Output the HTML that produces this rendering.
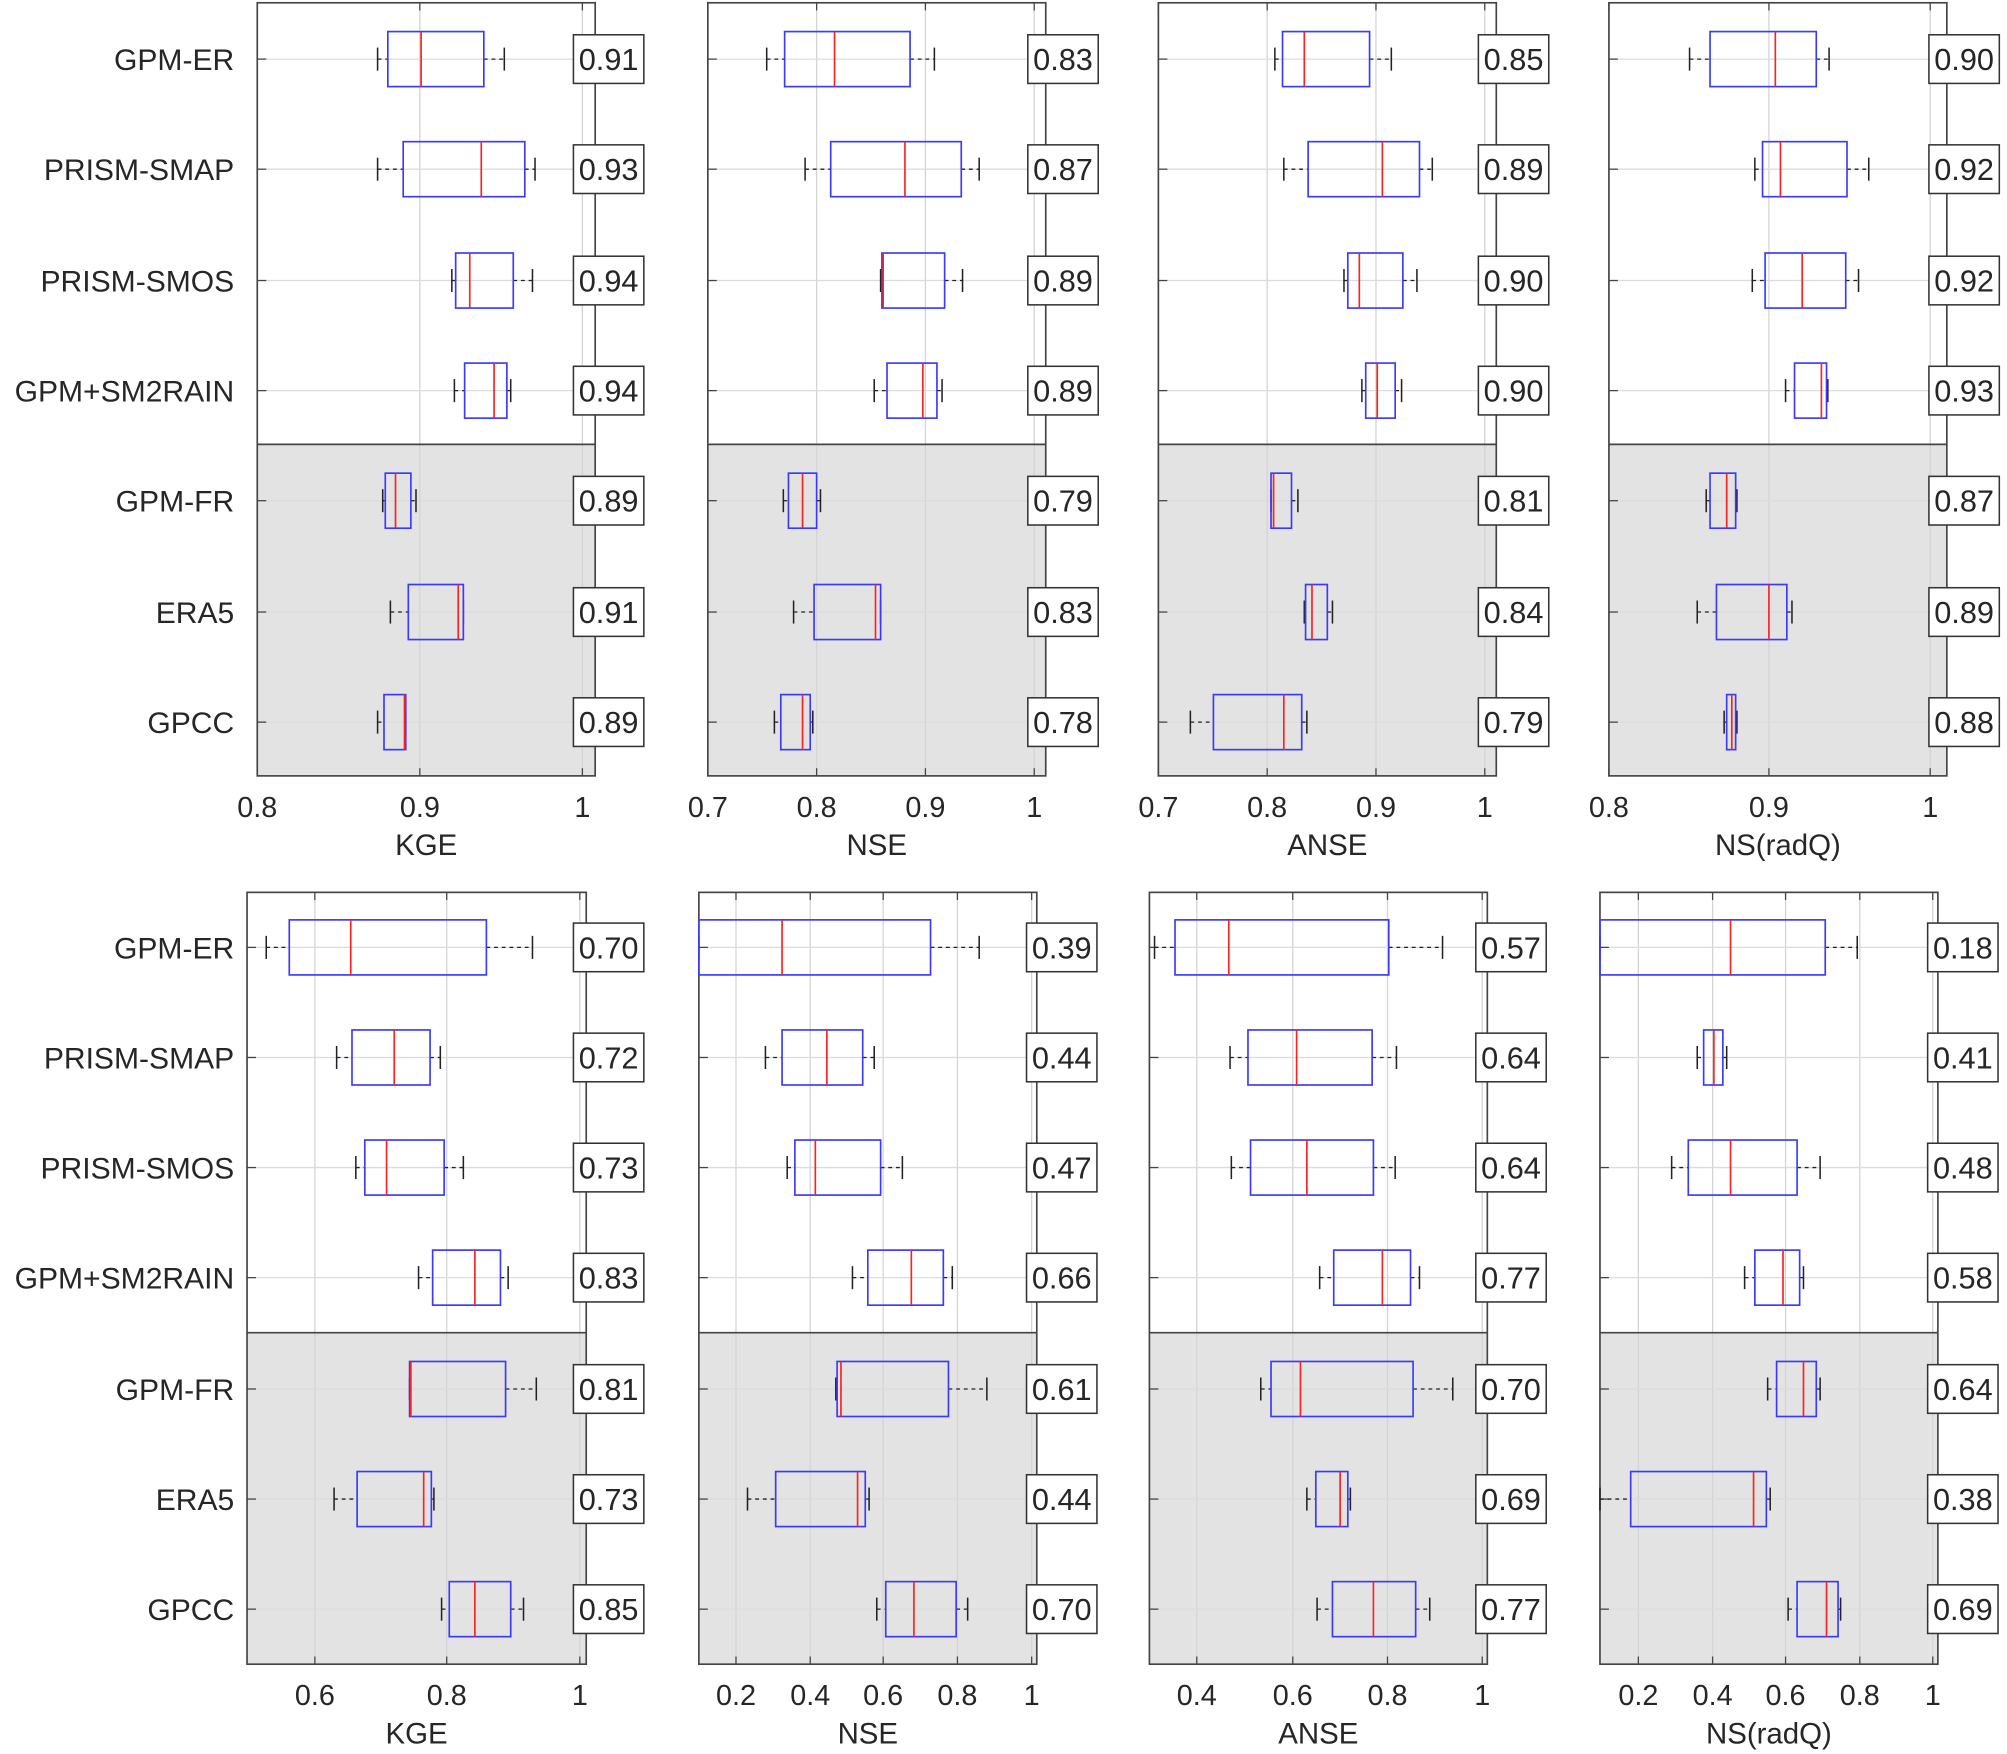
<!DOCTYPE html>
<html><head><meta charset="utf-8"><style>
html,body{margin:0;padding:0;background:#fff;}
svg{display:block;}
text{font-family:"Liberation Sans",Arial,sans-serif;fill:#262626;}
</style></head><body>
<svg id="s" width="2007" height="1754" viewBox="0 0 1568 1370" xmlns="http://www.w3.org/2000/svg"></svg>
<script>
var labels=["GPM-ER","PRISM-SMAP","PRISM-SMOS","GPM+SM2RAIN","GPM-FR","ERA5","GPCC"];
var P=[
{x0:201,x1:465,y0:2,y1:606,g:347,rows:[46,132,219,305,391,478,564],ticks:[[201,"0.8"],[328,"0.9"],[455,"1"]],lab:"KGE",bx:448,showY:true,
 vals:["0.91","0.93","0.94","0.94","0.89","0.91","0.89"],
 b:[[295,303,329,378,394],[295,315,376,410,418],[353,356,367,401,416],[355,363,386,396,399],[299,301,309,321,325],[305,319,358,362,362],[295,300,316,317,317]]},
{x0:553,x1:817,y0:2,y1:606,g:347,rows:[46,132,219,305,391,478,564],ticks:[[553,"0.7"],[638,"0.8"],[723,"0.9"],[808,"1"]],lab:"NSE",bx:803,
 vals:["0.83","0.87","0.89","0.89","0.79","0.83","0.78"],
 b:[[599,613,652,711,730],[629,649,707,751,765],[688,689,690,738,752],[683,693,721,732,736],[612,616,627,638,641],[620,636,684,688,688],[605,610,627,633,635]]},
{x0:905,x1:1169,y0:2,y1:606,g:347,rows:[46,132,219,305,391,478,564],ticks:[[905,"0.7"],[990,"0.8"],[1075,"0.9"],[1160,"1"]],lab:"ANSE",bx:1155,
 vals:["0.85","0.89","0.90","0.90","0.81","0.84","0.79"],
 b:[[996,1002,1019,1070,1087],[1003,1022,1080,1109,1119],[1050,1053,1062,1096,1107],[1064,1067,1076,1090,1095],[993,993,995,1009,1014],[1019,1020,1025,1037,1041],[930,948,1003,1017,1021]]},
{x0:1257,x1:1521,y0:2,y1:606,g:347,rows:[46,132,219,305,391,478,564],ticks:[[1257,"0.8"],[1382,"0.9"],[1508,"1"]],lab:"NS(radQ)",bx:1507,
 vals:["0.90","0.92","0.92","0.93","0.87","0.89","0.88"],
 b:[[1320,1336,1387,1419,1429],[1371,1377,1391,1443,1460],[1369,1379,1408,1442,1452],[1395,1402,1423,1427,1428],[1333,1336,1349,1356,1357],[1326,1341,1382,1396,1400],[1347,1349,1353,1356,1357]]},
{x0:193,x1:458,y0:697,y1:1300,g:1041,rows:[740,826,912,998,1085,1171,1257],ticks:[[246,"0.6"],[349,"0.8"],[453,"1"]],lab:"KGE",bx:448,showY:true,
 vals:["0.70","0.72","0.73","0.83","0.81","0.73","0.85"],
 b:[[208,226,274,380,416],[263,275,308,336,344],[278,285,302,347,362],[327,338,371,391,397],[320,320,321,395,419],[261,279,331,337,339],[345,351,371,399,409]]},
{x0:546,x1:810,y0:697,y1:1300,g:1041,rows:[740,826,912,998,1085,1171,1257],ticks:[[575,"0.2"],[633,"0.4"],[690,"0.6"],[748,"0.8"],[806,"1"]],lab:"NSE",bx:802,
 vals:["0.39","0.44","0.47","0.66","0.61","0.44","0.70"],
 b:[[546,546,611,727,765],[598,611,646,674,683],[615,621,637,688,705],[666,678,712,737,744],[653,654,657,741,771],[584,606,670,676,679],[685,692,714,747,756]]},
{x0:898,x1:1162,y0:697,y1:1300,g:1041,rows:[740,826,912,998,1085,1171,1257],ticks:[[935,"0.4"],[1010,"0.6"],[1084,"0.8"],[1158,"1"]],lab:"ANSE",bx:1153,
 vals:["0.57","0.64","0.64","0.77","0.70","0.69","0.77"],
 b:[[902,918,960,1085,1127],[961,975,1013,1072,1091],[962,977,1021,1073,1090],[1031,1042,1080,1102,1109],[985,993,1016,1104,1135],[1021,1028,1047,1053,1055],[1029,1041,1073,1106,1117]]},
{x0:1250,x1:1514,y0:697,y1:1300,g:1041,rows:[740,826,912,998,1085,1171,1257],ticks:[[1280,"0.2"],[1338,"0.4"],[1395,"0.6"],[1453,"0.8"],[1510,"1"]],lab:"NS(radQ)",bx:1506,
 vals:["0.18","0.41","0.48","0.58","0.64","0.38","0.69"],
 b:[[1250,1250,1352,1426,1451],[1326,1331,1339,1346,1349],[1306,1319,1352,1404,1422],[1363,1371,1393,1406,1409],[1381,1388,1409,1419,1422],[1250,1274,1370,1380,1383],[1397,1404,1427,1436,1438]]}
];
var h='';
P.forEach(function(p){
  var w=p.x1-p.x0;
  h+='<rect x="'+p.x0+'" y="'+p.g+'" width="'+w+'" height="'+(p.y1-p.g)+'" fill="#e3e3e3"/>';
  p.ticks.forEach(function(t){
    h+='<line x1="'+t[0]+'" y1="'+p.y0+'" x2="'+t[0]+'" y2="'+p.y1+'" stroke="#d4d4d4" stroke-width="1"/>';
    h+='<line x1="'+t[0]+'" y1="'+p.y0+'" x2="'+t[0]+'" y2="'+(p.y0+6)+'" stroke="#444" stroke-width="1"/>';
    h+='<line x1="'+t[0]+'" y1="'+p.y1+'" x2="'+t[0]+'" y2="'+(p.y1-6)+'" stroke="#444" stroke-width="1"/>';
    h+='<text x="'+t[0]+'" y="'+(p.y1+32)+'" font-size="22.5" text-anchor="middle">'+t[1]+'</text>';
  });
  p.rows.forEach(function(y,i){
    h+='<line x1="'+p.x0+'" y1="'+y+'" x2="'+p.x1+'" y2="'+y+'" stroke="#dcdcdc" stroke-width="1"/>';
    h+='<line x1="'+p.x0+'" y1="'+y+'" x2="'+(p.x0+7)+'" y2="'+y+'" stroke="#444" stroke-width="1"/>';
    if(p.showY) h+='<text x="183" y="'+(y+8.5)+'" font-size="23.5" text-anchor="end">'+labels[i]+'</text>';
  });
  h+='<line x1="'+p.x0+'" y1="'+p.g+'" x2="'+p.x1+'" y2="'+p.g+'" stroke="#444" stroke-width="1.3"/>';
  h+='<rect x="'+p.x0+'" y="'+p.y0+'" width="'+w+'" height="'+(p.y1-p.y0)+'" fill="none" stroke="#444" stroke-width="1.3"/>';
  h+='<text x="'+((p.x0+p.x1)/2)+'" y="'+(p.y1+62)+'" font-size="23" text-anchor="middle">'+p.lab+'</text>';
  p.b.forEach(function(b,i){
    var y=p.rows[i];
    h+='<line x1="'+b[0]+'" y1="'+y+'" x2="'+b[1]+'" y2="'+y+'" stroke="#222" stroke-width="1" stroke-dasharray="3,3"/>';
    h+='<line x1="'+b[3]+'" y1="'+y+'" x2="'+b[4]+'" y2="'+y+'" stroke="#222" stroke-width="1" stroke-dasharray="3,3"/>';
    h+='<line x1="'+b[0]+'" y1="'+(y-9)+'" x2="'+b[0]+'" y2="'+(y+9)+'" stroke="#222" stroke-width="1.2"/>';
    h+='<line x1="'+b[4]+'" y1="'+(y-9)+'" x2="'+b[4]+'" y2="'+(y+9)+'" stroke="#222" stroke-width="1.2"/>';
    h+='<rect x="'+b[1]+'" y="'+(y-21.5)+'" width="'+Math.max(1,b[3]-b[1])+'" height="43" fill="none" stroke="#3a3aff" stroke-width="1.3"/>';
    h+='<line x1="'+b[2]+'" y1="'+(y-21.5)+'" x2="'+b[2]+'" y2="'+(y+21.5)+'" stroke="#ff2020" stroke-width="1.3"/>';
    h+='<rect x="'+p.bx+'" y="'+(y-19)+'" width="55" height="38" fill="#fff" stroke="#333" stroke-width="1.2"/>';
    h+='<text x="'+(p.bx+27.5)+'" y="'+(y+8.5)+'" font-size="24" text-anchor="middle" fill="#000">'+p.vals[i]+'</text>';
  });
});
document.getElementById('s').innerHTML=h;
</script>
</body></html>
